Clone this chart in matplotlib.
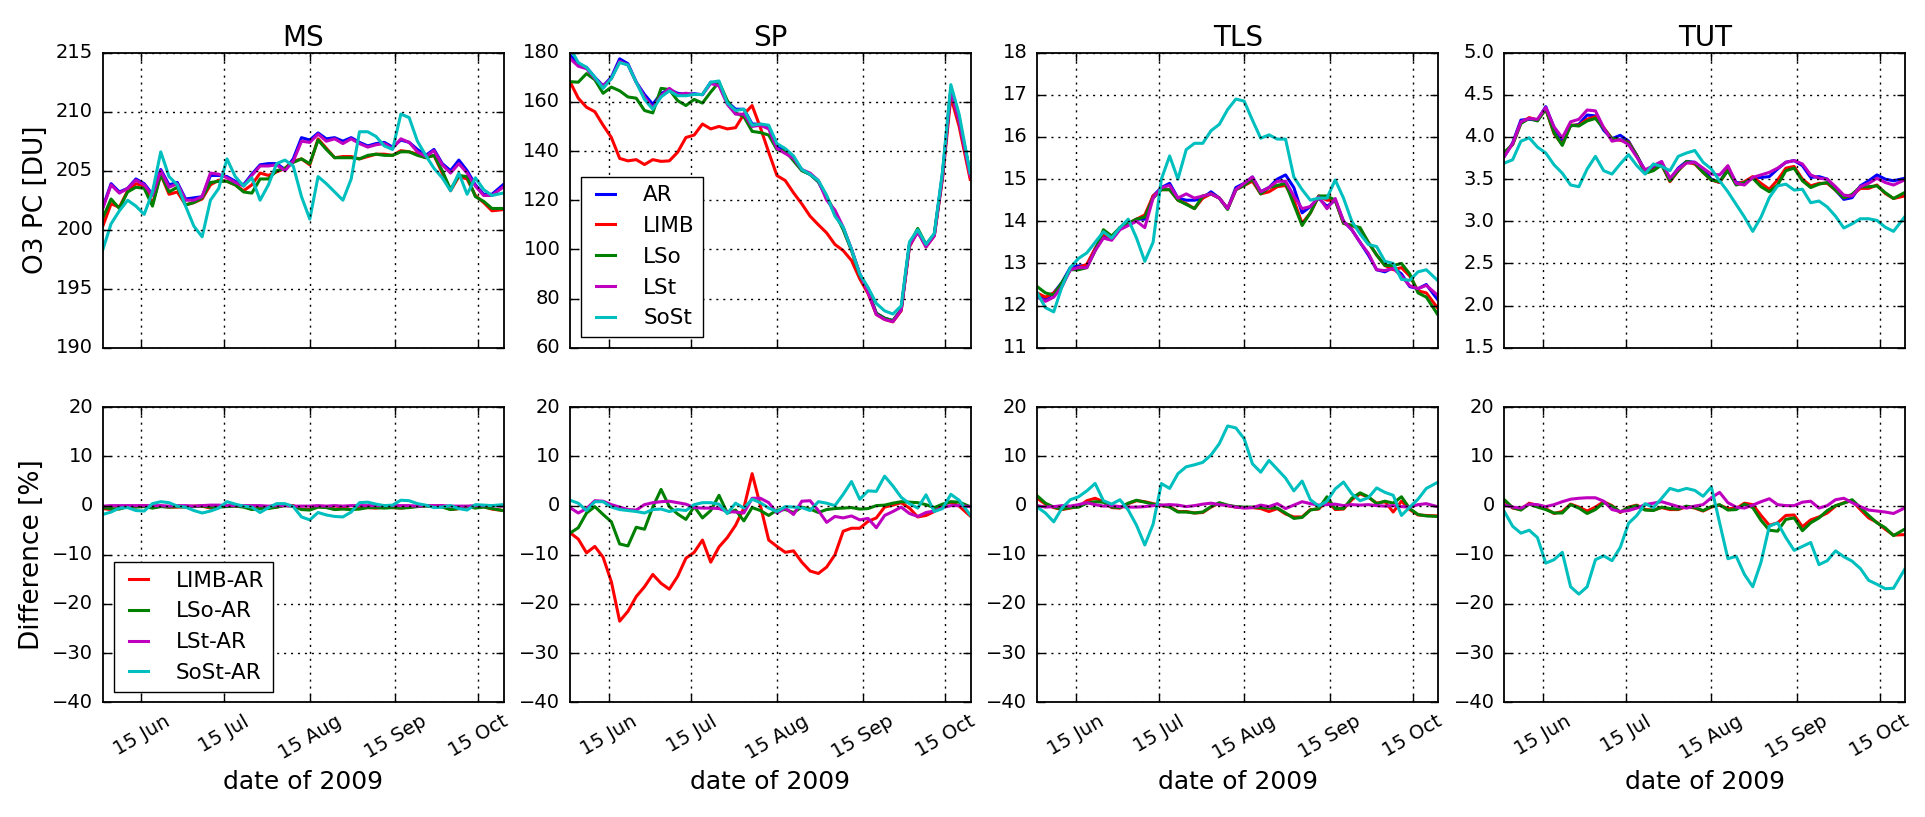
import numpy as np
import matplotlib
matplotlib.use("Agg")
import matplotlib.pyplot as plt
import matplotlib.dates as mdates

# days after 1 June 2009
days = list(range(0, 142, 3)) + [145]
start = np.datetime64("2009-06-01")
dates = start + np.array(days) * np.timedelta64(1, "D")

# ---- MS ----
ms_ar = [201.9, 203.9, 203.2, 203.5, 204.3, 203.9, 203.0, 205.1, 203.8, 204.0,
         202.6, 202.7, 202.8, 204.6, 204.6, 204.5, 204.1, 203.8, 204.7, 205.5,
         205.6, 205.6, 205.1, 206.0, 207.8, 207.6, 208.2, 207.7, 207.8, 207.5,
         207.8, 207.4, 207.1, 207.3, 207.4, 207.0, 207.6, 207.4, 206.8, 206.3,
         206.8, 205.6, 205.0, 205.9, 205.0, 203.8, 203.0, 203.0, 203.8]
ms_limb = [200.3, 202.2, 201.9, 203.3, 203.9, 203.7, 202.2, 204.7, 203.0, 203.2,
           202.1, 202.3, 202.6, 203.8, 204.2, 204.1, 203.8, 203.3, 203.8, 204.8,
           204.6, 204.9, 205.2, 205.8, 206.0, 205.5, 207.7, 206.9, 206.1, 206.2,
           206.2, 206.0, 206.2, 206.4, 206.4, 206.3, 206.7, 206.6, 206.4, 206.1,
           206.3, 204.8, 203.3, 204.5, 204.3, 202.9, 202.3, 201.6, 201.7]
ms_lso = [201.0, 202.6, 201.8, 203.2, 203.6, 203.5, 202.0, 204.7, 203.2, 203.6,
          202.1, 202.3, 202.7, 204.0, 204.1, 204.1, 203.8, 203.2, 203.1, 204.3,
          204.3, 205.0, 205.2, 205.7, 206.0, 205.6, 207.6, 206.8, 206.1, 206.1,
          206.1, 206.0, 206.3, 206.4, 206.3, 206.3, 206.6, 206.6, 206.3, 206.1,
          206.3, 205.0, 203.4, 204.6, 204.5, 202.8, 202.4, 201.8, 201.8]
ms_lst = [201.8, 203.8, 203.1, 203.5, 204.2, 203.8, 202.9, 205.0, 203.6, 203.9,
          202.5, 202.5, 202.8, 204.8, 204.7, 204.4, 204.0, 203.7, 204.6, 205.4,
          205.4, 205.5, 205.0, 205.8, 207.5, 207.4, 208.1, 207.5, 207.7, 207.3,
          207.7, 207.3, 207.0, 207.2, 207.3, 206.9, 207.7, 207.4, 206.6, 206.2,
          206.7, 205.5, 204.8, 205.6, 204.8, 203.7, 202.9, 202.9, 203.6]
ms_sost = [198.3, 200.5, 201.6, 202.5, 202.0, 201.3, 203.2, 206.6, 204.5, 203.8,
           202.0, 200.3, 199.4, 202.5, 203.5, 206.0, 204.5, 203.7, 204.4, 202.5,
           203.8, 205.6, 205.9, 205.4, 202.8, 200.9, 204.5, 203.9, 203.2, 202.5,
           204.3, 208.3, 208.3, 207.9, 207.1, 206.8, 209.8, 209.5, 207.5, 206.3,
           205.2, 204.4, 203.3, 204.8, 203.0, 204.4, 203.4, 202.9, 203.1]
ms_d_limb = [-0.6, -0.8, -0.6, -0.1, -0.2, 0.0, -0.4, -0.1, -0.3, -0.3,
             -0.2, -0.1, -0.1, -0.5, -0.2, -0.1, -0.1, -0.2, -0.4, -0.3,
             -0.4, -0.3, 0.1, 0.0, -0.7, -0.8, -0.2, -0.3, -0.7, -0.5,
             -0.8, -0.4, -0.4, -0.5, -0.3, -0.4, -0.5, -0.3, -0.1, 0.0,
             -0.1, 0.0, -0.8, -0.6, -0.2, -0.4, -0.2, -0.7, -1.0]
ms_d_lso = [-0.4, -0.6, -0.7, -0.2, -0.3, -0.2, -0.5, -0.2, -0.3, -0.2,
            -0.3, -0.2, -0.1, -0.3, -0.3, -0.2, -0.1, -0.3, -0.8, -0.6,
            -0.6, -0.3, 0.0, -0.1, -0.8, -0.9, -0.3, -0.4, -0.8, -0.7,
            -0.8, -0.7, -0.4, -0.4, -0.5, -0.4, -0.5, -0.4, -0.2, -0.1,
            -0.2, -0.3, -0.8, -0.6, -0.2, -0.5, -0.3, -0.6, -1.0]
ms_d_lst = [-0.1, 0.0, 0.0, 0.0, 0.0, 0.0, 0.0, 0.0, -0.1, 0.0,
            0.0, -0.1, 0.0, 0.1, 0.1, 0.0, 0.0, 0.0, 0.0, 0.0,
            -0.1, 0.0, 0.0, -0.1, -0.1, -0.1, 0.0, -0.1, 0.0, -0.1,
            0.0, 0.0, 0.0, 0.0, 0.0, 0.0, 0.0, 0.0, -0.1, 0.0,
            0.0, 0.0, -0.1, -0.1, -0.1, 0.0, 0.0, 0.0, -0.1]
ms_d_sost = [-1.8, -1.3, -0.5, -0.4, -1.0, -1.1, 0.4, 0.8, 0.6, -0.1,
             -0.3, -1.0, -1.5, -1.1, -0.5, 0.8, 0.3, -0.1, -0.3, -1.4,
             -0.4, 0.4, 0.4, -0.2, -2.3, -2.9, -1.4, -1.9, -2.2, -2.3,
             -1.3, 0.6, 0.7, 0.3, 0.0, 0.1, 1.1, 1.0, 0.4, 0.1,
             -0.4, -0.3, 0.0, -0.6, -0.9, 0.2, 0.1, 0.0, 0.2]

# ---- SP ----
sp_ar = [179, 175.5, 174, 170, 166.5, 170, 177.5, 175.5, 168, 163,
         159, 163.4, 165, 163.5, 163, 163.3, 162.9, 168, 167, 160,
         157, 157, 151, 150.9, 150, 142, 140.5, 137, 132.2, 130.5,
         127.5, 121, 114.5, 108.5, 100, 90, 83, 74, 72, 71,
         75.5, 102, 107, 102, 106, 131, 165, 153, 131]
sp_limb = [168.2, 161.5, 157.8, 156, 150.5, 145.5, 137, 136, 136.5, 134.5,
           136.5, 135.8, 136, 139.5, 145.5, 146.5, 151, 149, 150, 149,
           149.5, 155, 158.5, 149.5, 139.5, 130, 128, 123, 118.5, 113.5,
           110, 106.7, 102, 99.5, 95.5, 88, 82, 73.5, 71.5, 70.5,
           75, 101, 107.5, 101, 105.5, 129, 162, 150, 128.5]
sp_lso = [168.2, 168, 171.5, 169, 163.5, 166, 164.5, 162, 161.5, 156.5,
          155.5, 165.5, 165, 160.5, 158.5, 161, 159.5, 164, 168, 160.5,
          155.5, 154, 148, 147.5, 146.5, 140.5, 140, 136, 132, 130.5,
          127.5, 121.5, 115, 108, 99.5, 89.5, 83, 74, 72, 71,
          75.5, 102, 108.5, 102, 106, 130, 165, 152, 131]
sp_lst = [177.7, 174.5, 173.5, 169.5, 166.5, 169.5, 176.5, 175, 168, 162,
          157.5, 162.5, 165.5, 163, 163.5, 163, 163, 167.5, 166.5, 159,
          155, 155, 150, 150.5, 149, 141, 139, 137, 132.5, 131,
          128, 120, 116, 109, 100, 90, 82.5, 73.5, 71.5, 70.6,
          75.3, 101.5, 107, 101, 105.5, 130, 164.5, 152, 130]
sp_sost = [182, 176, 174, 170, 165.5, 169.5, 176, 175, 168, 161,
           157, 162, 164.5, 162.5, 162.5, 163, 163, 168, 168.5, 159.5,
           156.5, 157, 150.5, 151, 150.5, 143, 141, 138, 132.5, 130.5,
           128, 122, 113.5, 109, 100, 90, 84.5, 78, 75, 73.7,
           77, 103, 108, 102, 106.5, 132, 167, 155, 131]
sp_d_limb = [-5.5, -6.8, -9.6, -8.3, -10.5, -15.5, -23.5, -21.5, -18.5, -16.5,
             -14, -15.8, -17, -14.4, -10.7, -9.5, -7, -11.5, -8.4, -6.5,
             -4, -0.5, 6.5, 0, -7, -8.3, -9.5, -9.2, -11.5, -13.3,
             -13.8, -12.5, -10, -5.2, -4.6, -4.6, -3.2, -2.5, -0.3, 0.1,
             0.6, -0.5, -2.3, -2, -1.2, 0.2, 0.7, -0.1, -2.1]
sp_d_lso = [-5.6, -4.5, -1.5, -0.2, -1.8, -3.3, -7.8, -8.2, -4.4, -4.8,
            -0.3, 3.3, -0.2, -1.7, -2.8, -0.2, -2.5, -1, 2.1, -1.5,
            -0.9, -3.1, -0.4, -1, -2, -0.9, -0.8, -1.4, -0.3, -0.7,
            -1.4, -0.8, -0.6, -0.5, -0.4, -0.7, -0.6, 0, 0.1, 0.5,
            0.8, 0.7, 0.6, 0.2, -0.4, 0.3, 0.8, 0.7, -0.2]
sp_d_lst = [-0.4, -1.5, -0.6, 1.0, 0.9, 0.2, -0.3, -0.8, -0.9, 0.2,
            0.6, 0.8, 0.9, 0.6, 0.3, -0.4, -0.5, -0.5, -0.6, -1.2,
            -1.3, -1.5, 1.5, 1.5, 0.6, -1.5, -0.5, -1.8, 0.9, 1,
            -1, -3.4, -2.2, -2.5, -2.1, -2.9, -2.6, -4.5, -2, -1.2,
            -0.3, -1.6, -2.2, -1.4, -1.1, -0.4, 0, 0, -0.2]
sp_d_sost = [1.1, 0.5, -1.0, 0.8, 0.8, -0.3, -0.8, -1, -1.2, -1.5,
             -0.8, -0.7, -1.2, -0.8, -1, 0.2, 0.6, 0.6, 0.3, -1.6,
             0.5, -0.5, 1.3, 0.6, -0.5, -1.2, -0.2, -0.3, -0.4, -1,
             0.8, 0.5, 0, 2.3, 4.9, 1.3, 3.0, 2.9, 6, 4,
             1.7, 0.4, -0.5, 2.2, -1.2, -0.6, 2.3, 1.1, -1.9]

# ---- TLS ----
tls_ar = [12.25, 12.15, 12.3, 12.55, 12.9, 12.94, 12.95, 13.35, 13.65, 13.6,
          13.85, 13.92, 14.05, 14.05, 14.6, 14.8, 14.9, 14.55, 14.5, 14.5,
          14.55, 14.7, 14.55, 14.3, 14.8, 14.9, 15.05, 14.7, 14.8, 15.0,
          15.1, 14.8, 14.2, 14.35, 14.55, 14.35, 14.5, 14.0, 13.8, 13.5,
          13.2, 12.85, 12.8, 12.9, 12.75, 12.45, 12.4, 12.5, 12.15]
tls_limb = [12.3, 12.2, 12.3, 12.5, 12.85, 12.9, 12.98, 13.35, 13.7, 13.6,
            13.85, 13.95, 14.05, 14.15, 14.6, 14.75, 14.75, 14.5, 14.42, 14.3,
            14.55, 14.65, 14.55, 14.3, 14.75, 14.85, 14.95, 14.65, 14.7, 14.82,
            14.85, 14.5, 13.95, 14.2, 14.6, 14.5, 14.5, 13.95, 13.9, 13.8,
            13.5, 13.2, 12.95, 12.85, 12.9, 12.7, 12.35, 12.3, 11.95]
tls_lso = [12.45, 12.3, 12.25, 12.55, 12.85, 12.85, 12.9, 13.3, 13.8, 13.65,
           13.85, 13.95, 14.05, 14.1, 14.55, 14.75, 14.75, 14.5, 14.4, 14.3,
           14.6, 14.65, 14.55, 14.28, 14.75, 14.85, 15.0, 14.65, 14.8, 14.85,
           14.9, 14.4, 13.9, 14.2, 14.6, 14.6, 14.5, 13.95, 13.9, 13.85,
           13.5, 13.2, 12.95, 12.95, 13.0, 12.75, 12.3, 12.2, 11.8]
tls_lst = [12.2, 12.1, 12.2, 12.45, 12.85, 12.9, 12.9, 13.3, 13.6, 13.55,
           13.8, 13.9, 14.0, 13.85, 14.55, 14.8, 14.85, 14.55, 14.65, 14.55,
           14.6, 14.65, 14.55, 14.3, 14.75, 14.9, 15.05, 14.7, 14.8, 14.95,
           14.95, 14.6, 14.3, 14.35, 14.58, 14.3, 14.54, 14.0, 13.8, 13.5,
           13.24, 12.85, 12.83, 12.88, 12.7, 12.47, 12.4, 12.48, 12.25]
tls_sost = [12.3, 11.95, 11.85, 12.45, 12.9, 13.12, 13.25, 13.5, 13.75, 13.6,
            13.85, 14.05, 13.6, 13.05, 13.5, 15.0, 15.55, 15.0, 15.7, 15.85,
            15.85, 16.15, 16.3, 16.65, 16.9, 16.85, 16.4, 15.97, 16.05, 15.95,
            15.95, 15.05, 14.75, 14.5, 14.55, 14.55, 14.98, 14.55, 14.0, 13.7,
            13.45, 13.4, 13.05, 13.0, 12.62, 12.6, 12.8, 12.85, 12.6]
tls_d_limb = [1.5, 0.3, -0.4, -0.8, -0.5, -0.2, 1.0, 1.5, 0.8, -0.4,
              -0.5, 0.4, 1, 0.8, 0.4, 0, -0.2, -1.2, -1.2, -1.5,
              -1.4, -0.3, 0.5, 0, -0.3, -0.4, -0.4, -0.6, -1.2, -0.6,
              -1.7, -2.3, -2.3, -0.8, -0.7, 1.0, -0.8, -0.7, 1.2, 2.4,
              1.7, 0.5, 0.8, -1.3, 0.9, -0.8, -1.9, -2.0, -2.1]
tls_d_lso = [2.0, 0.5, -0.3, -0.7, -0.4, -0.3, 0.5, 0.8, 0.7, -0.3,
             -0.4, 0.5, 1.1, 0.7, 0.3, 0.1, -0.3, -1.3, -1.3, -1.5,
             -1.3, -0.2, 0.6, 0.1, -0.2, -0.3, -0.3, -0.4, -0.5, -0.5,
             -1.5, -2.6, -2.4, -0.9, -0.6, 1.8, -0.6, -0.6, 1.5, 2.6,
             1.8, 0.4, 0.9, 0.5, 1.8, -0.6, -1.8, -2.1, -2.2]
tls_d_lst = [0, -0.3, -0.2, 0, -0.1, 0.2, 0.6, 0.2, -0.1, 0,
             -0.2, -0.3, -0.3, -0.2, 0, 0.1, 0.2, 0.1, -0.2, 0,
             0.3, 0.5, 0.2, 0, -0.3, -0.5, -0.4, 0.1, -0.2, 0.4,
             -0.6, 0.1, 0.8, 0.4, 0.1, 0.2, 0.3, 0, 0.2, 0.1,
             0.2, 0, -0.1, 0, -0.2, -0.3, 0.2, 0.4, -0.2]
tls_d_sost = [-0.3, -1.5, -3.3, -0.5, 1.2, 1.8, 3, 4.5, 1, 0.3,
              1.2, -0.9, -4, -8, -3.8, 4.5, 3.5, 6.5, 7.9, 8.3,
              8.8, 10.3, 12.6, 16.2, 15.8, 13.6, 8.5, 6.8, 9.2, 7.4,
              5.6, 3, 5, 1.2, -0.1, 0.9, 3.4, 4.8, 2.4, 1,
              1.6, 3.6, 2.7, 2.1, -2, -0.3, 1.3, 3.5, 4.7]

# ---- TUT ----
tut_ar = [3.77, 3.93, 4.2, 4.21, 4.2, 4.36, 4.11, 3.96, 4.13, 4.15,
          4.26, 4.25, 4.08, 3.98, 4.02, 3.95, 3.78, 3.6, 3.64, 3.68,
          3.5, 3.63, 3.71, 3.7, 3.62, 3.5, 3.46, 3.63, 3.46, 3.45,
          3.52, 3.52, 3.53, 3.62, 3.7, 3.72, 3.66, 3.52, 3.53, 3.5,
          3.37, 3.26, 3.28, 3.42, 3.48, 3.55, 3.5, 3.48, 3.51]
tut_limb = [3.81, 3.91, 4.17, 4.23, 4.2, 4.33, 4.04, 3.91, 4.14, 4.14,
            4.21, 4.24, 4.11, 3.98, 3.96, 3.94, 3.78, 3.57, 3.61, 3.67,
            3.47, 3.6, 3.7, 3.68, 3.58, 3.49, 3.46, 3.61, 3.44, 3.47,
            3.53, 3.45, 3.38, 3.49, 3.63, 3.65, 3.5, 3.42, 3.45, 3.45,
            3.37, 3.28, 3.31, 3.39, 3.39, 3.43, 3.33, 3.27, 3.3]
tut_lso = [3.82, 3.91, 4.16, 4.22, 4.19, 4.33, 4.05, 3.9, 4.14, 4.13,
           4.19, 4.22, 4.1, 3.98, 3.97, 3.93, 3.78, 3.57, 3.6, 3.67,
           3.48, 3.6, 3.71, 3.69, 3.58, 3.49, 3.47, 3.6, 3.43, 3.46,
           3.51, 3.41, 3.35, 3.43, 3.6, 3.63, 3.48, 3.4, 3.44, 3.46,
           3.37, 3.28, 3.32, 3.41, 3.41, 3.42, 3.34, 3.27, 3.34]
tut_lst = [3.77, 3.92, 4.18, 4.22, 4.21, 4.35, 4.12, 3.99, 4.18, 4.21,
           4.32, 4.31, 4.11, 3.95, 3.97, 3.91, 3.76, 3.61, 3.66, 3.71,
           3.51, 3.62, 3.69, 3.7, 3.63, 3.56, 3.55, 3.66, 3.45, 3.43,
           3.52, 3.55, 3.58, 3.63, 3.7, 3.72, 3.68, 3.55, 3.51, 3.5,
           3.41, 3.31, 3.3, 3.41, 3.45, 3.51, 3.46, 3.43, 3.49]
tut_sost = [3.69, 3.73, 3.95, 3.99, 3.88, 3.81, 3.67, 3.57, 3.43, 3.41,
            3.62, 3.77, 3.6, 3.56, 3.68, 3.79, 3.66, 3.56, 3.68, 3.65,
            3.6, 3.77, 3.81, 3.84, 3.7, 3.62, 3.48, 3.35, 3.2, 3.05,
            2.88, 3.05, 3.28, 3.42, 3.44, 3.37, 3.38, 3.22, 3.24, 3.17,
            3.06, 2.92, 2.97, 3.03, 3.03, 3.01, 2.93, 2.88, 3.05]
tut_d_limb = [1.0, -0.5, -0.8, 0.5, 0, -0.6, -1.6, -1.2, 0.3, -0.3,
              -1.1, -0.3, 0.8, 0, -1.4, -0.3, 0.1, -0.8, -0.9, -0.4,
              -0.8, -0.8, -0.2, -0.5, -1.1, -0.3, 0.1, -0.6, -0.6, 0.5,
              0.2, -2, -4.0, -3.5, -2, -1.9, -4.3, -2.9, -2.3, -1.5,
              -0.1, 0.6, 1.0, -0.8, -2.5, -3.4, -4.8, -6, -5.9]
tut_d_lso = [1.2, -0.4, -0.9, 0.3, -0.3, -0.8, -1.5, -1.5, 0.2, -0.5,
             -1.6, -0.8, 0.6, -0.1, -1.3, -0.4, 0.0, -0.9, -1.0, -0.3,
             -0.6, -0.7, -0.1, -0.4, -1.0, -0.2, 0.2, -0.9, -0.8, 0.3,
             -0.4, -3, -5.0, -5.2, -2.8, -2.5, -5.1, -3.5, -2.5, -1.0,
             0.0, 0.5, 1.2, -0.4, -2, -3.5, -4.5, -6.1, -4.8]
tut_d_lst = [0.1, -0.3, -0.5, 0.3, 0.2, -0.2, 0.2, 0.8, 1.3, 1.5,
             1.6, 1.6, 0.9, -0.8, -1.2, -1.0, -0.5, 0.2, 0.5, 0.8,
             0.3, -0.2, -0.5, -0.1, 0.2, 1.6, 2.7, 0.6, -0.3, -0.5,
             0.1, 0.8, 1.4, 0.2, 0, 0, 0.7, 0.9, -0.5, 0,
             1.2, 1.5, 0.6, -0.2, -0.9, -1.1, -1.3, -1.6, -0.5]
tut_d_sost = [-1.2, -4.2, -5.6, -5, -6.5, -11.7, -11, -9.5, -16.5, -18,
              -16.5, -11, -10.2, -11.2, -8.5, -3.6, -2, 0.4, -0.4, 1.5,
              3.5, 3, 3.5, 3.1, 1.9, 3.8, -3.5, -10.8, -10.3, -14,
              -16.5, -11.5, -4.2, -3.5, -6.5, -9.1, -8.3, -7.5, -12, -11.2,
              -9.2, -10.4, -11.3, -12.8, -15.2, -16, -16.9, -16.8, -13]

regions = ["MS", "SP", "TLS", "TUT"]
top_data = {
    "MS": [ms_ar, ms_limb, ms_lso, ms_lst, ms_sost],
    "SP": [sp_ar, sp_limb, sp_lso, sp_lst, sp_sost],
    "TLS": [tls_ar, tls_limb, tls_lso, tls_lst, tls_sost],
    "TUT": [tut_ar, tut_limb, tut_lso, tut_lst, tut_sost],
}
diff_data = {
    "MS": [ms_d_limb, ms_d_lso, ms_d_lst, ms_d_sost],
    "SP": [sp_d_limb, sp_d_lso, sp_d_lst, sp_d_sost],
    "TLS": [tls_d_limb, tls_d_lso, tls_d_lst, tls_d_sost],
    "TUT": [tut_d_limb, tut_d_lso, tut_d_lst, tut_d_sost],
}
top_names = ["AR", "LIMB", "LSo", "LSt", "SoSt"]
top_colors = ["b", "r", "g", "m", "c"]
diff_names = ["LIMB-AR", "LSo-AR", "LSt-AR", "SoSt-AR"]
diff_colors = ["r", "g", "m", "c"]
ylims = {"MS": (190, 215), "SP": (60, 180), "TLS": (11, 18), "TUT": (1.5, 5.0)}
ysteps = {"MS": 5, "SP": 20, "TLS": 1, "TUT": 0.5}

plt.style.use("classic")
plt.rcParams["font.family"] = ["DejaVu Sans"]
plt.rcParams["font.size"] = 14
plt.rcParams["lines.linewidth"] = 2.2
plt.rcParams["axes.linewidth"] = 1.3
plt.rcParams["xtick.major.size"] = 6
plt.rcParams["ytick.major.size"] = 6
plt.rcParams["xtick.major.width"] = 1.0
plt.rcParams["ytick.major.width"] = 1.0
plt.rcParams["xtick.major.pad"] = 7
plt.rcParams["ytick.major.pad"] = 7
plt.rcParams["legend.fontsize"] = 15.5
plt.rcParams["legend.handlelength"] = 1.5
plt.rcParams["legend.handletextpad"] = 1.0

fig, axes = plt.subplots(2, 4, figsize=(19.25, 8.17), dpi=100)
fig.subplots_adjust(left=0.0534, right=0.9898, top=0.9355, bottom=0.1404,
                    wspace=0.165, hspace=0.202)

x0 = mdates.date2num(start)

for i, reg in enumerate(regions):
    ax = axes[0, i]
    for vals, name, col in zip(top_data[reg], top_names, top_colors):
        ax.plot(dates, vals, color=col, label=name)
    lo, hi = ylims[reg]
    ax.set_ylim(lo, hi)
    ax.set_yticks(np.arange(lo, hi + ysteps[reg] / 2, ysteps[reg]))
    if reg == "TUT":
        ax.yaxis.set_major_formatter(matplotlib.ticker.FormatStrFormatter("%.1f"))
    ax.set_title(reg, fontsize=20)
    if reg == "SP":
        ax.legend(loc="lower left")

    bx = axes[1, i]
    for vals, name, col in zip(diff_data[reg], diff_names, diff_colors):
        bx.plot(dates, vals, color=col, label=name)
    bx.set_ylim(-40, 20)
    bx.set_yticks(np.arange(-40, 21, 10))
    bx.set_xlabel("date of 2009", fontsize=18)
    if reg == "MS":
        bx.legend(loc="lower left")

    for a in (ax, bx):
        a.set_xlim(x0, x0 + 145.3)
        a.xaxis.set_major_locator(mdates.MonthLocator(bymonthday=15))
        a.xaxis.set_major_formatter(mdates.DateFormatter("%d %b"))
        a.grid(True, color="k", linewidth=1.0, linestyle=(0, (1.5, 3.5)))
    ax.tick_params(labelbottom=False)
    for lab in bx.get_xticklabels():
        lab.set_rotation(30)

axes[0, 0].set_ylabel("O3 PC [DU]", fontsize=19)
axes[1, 0].set_ylabel("Difference [%]", fontsize=19)

fig.savefig("out.png", dpi=100, facecolor="white")
